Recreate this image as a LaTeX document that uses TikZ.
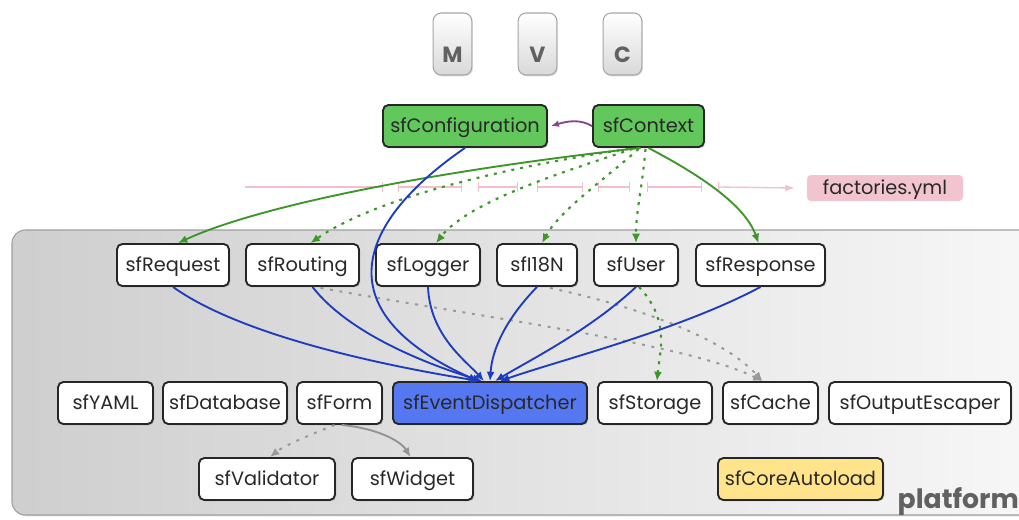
\documentclass[tikz,border=0pt]{standalone}
\usepackage{fontspec}
\setmainfont{Poppins}
\usetikzlibrary{arrows.meta,shadows,calc}
\definecolor{nodegreen}{RGB}{98,200,92}
\definecolor{edgegreen}{RGB}{60,150,40}
\definecolor{nodeblue}{RGB}{85,120,240}
\definecolor{edgeblue}{RGB}{30,60,190}
\definecolor{nodeyellow}{RGB}{255,228,140}
\definecolor{pinkline}{RGB}{245,190,205}
\definecolor{pinkbox}{RGB}{242,196,208}
\definecolor{purpleedge}{RGB}{140,70,140}
\definecolor{txt}{RGB}{40,40,40}
\begin{document}
\begin{tikzpicture}[x=0.75pt,y=-0.75pt,
  box/.style={draw=black!85, line width=1.4pt, rounded corners=4pt, fill=white,
    inner sep=0pt, minimum height=31.5pt, font=\fontsize{14.5}{16}\selectfont, text=txt,
    text height=13pt, text depth=2.9pt,
    drop shadow={opacity=0.3,shadow xshift=1pt,shadow yshift=-1pt}},
  bw/.style={minimum width=#1*0.75pt},
  mvcbox/.style={draw=gray!70, line width=0.8pt, rounded corners=6pt,
    top color=white, bottom color=gray!30, minimum width=29pt, minimum height=46.5pt,
    drop shadow={opacity=0.25,shadow xshift=0.8pt,shadow yshift=-1pt}},
  mvclabel/.style={font=\bfseries\fontsize{16.5}{18}\selectfont, text=black!62},
  gtip/.style={-{Latex[length=7pt,width=6pt]}},
  gsolid/.style={draw=edgegreen, line width=1.4pt, gtip},
  gdots/.style={draw=edgegreen, line width=1.6pt, dash pattern=on 2.2pt off 4.5pt, gtip},
  bline/.style={draw=edgeblue, line width=1.4pt, gtip},
  graydash/.style={draw=gray!80, line width=1.5pt, dash pattern=on 2.2pt off 5pt, gtip},
  graysolid/.style={draw=gray!85, line width=1.4pt, gtip},
  pinkseg/.style={draw=pinkline, line width=1pt}
]
\useasboundingbox (0,0) rectangle (1019,519);
\fill[white] (0,0) rectangle (1019,519);
\clip (0,0) rectangle (1019,519);

% platform area
\path[draw=gray!75, line width=0.8pt, rounded corners=10pt, left color=black!19, right color=black!3,
  drop shadow={opacity=0.25,shadow xshift=1pt,shadow yshift=-1pt}]
  (12,230) rectangle (1045,515);
\node[anchor=base west, font=\bfseries\fontsize{20}{22}\selectfont, text=black!62] (plat) at (893,508) {platform};

% MVC
\node[mvcbox] (m) at (452.5,44) {};
\node[mvcbox] (v) at (537.5,44) {};
\node[mvcbox] (c) at (622.5,44) {};
\node[mvclabel] (ml) at (452.5,55) {M};
\node[mvclabel] (vl) at (537.5,55) {V};
\node[mvclabel] (cl) at (622.5,55) {C};

% top nodes
\node[box, bw=164, fill=nodegreen] (conf) at (465,126) {sfConfiguration};
\node[box, bw=111, fill=nodegreen] (ctx) at (648.5,126) {sfContext};

% factories
\node[fill=pinkbox, rounded corners=3pt, minimum width=117pt, minimum height=19.5pt, inner sep=0pt,
  font=\fontsize{14.5}{16}\selectfont, text=txt, text height=13pt, text depth=2.9pt] (fy) at (885,188) {factories.yml};
\coordinate (pstart) at (245,187);
\coordinate (pend) at ($(fy.west)+(-12,0)$);
\draw[pinkseg, -{Bar[width=7pt]}] (pstart) -- (383,187);
\foreach \a/\b in {398/462,478/518,537/583,598/630,647/702}{
  \draw[pinkseg, {Bar[width=7pt]}-{Bar[width=7pt]}] (\a,187) -- (\b,187);
}
\draw[pinkseg, {Bar[width=7pt]}-{Latex[length=7pt,width=5pt]}] (718,187) -- (pend);

% row 1
\node[box, bw=112] (req) at (173,265) {sfRequest};
\node[box, bw=113] (rout) at (302.5,265) {sfRouting};
\node[box, bw=104] (log) at (428,265) {sfLogger};
\node[box, bw=80] (i18n) at (537,265) {sfI18N};
\node[box, bw=84] (user) at (636,265) {sfUser};
\node[box, bw=129] (resp) at (760.5,265) {sfResponse};

% row 2
\node[box, bw=95] (yaml) at (105.5,403) {sfYAML};
\node[box, bw=124] (db) at (225,403) {sfDatabase};
\node[box, bw=85] (form) at (339.5,403) {sfForm};
\node[box, bw=194, fill=nodeblue] (ed) at (490,403) {sfEventDispatcher};
\node[box, bw=114] (stor) at (655,403) {sfStorage};
\node[box, bw=95] (cache) at (770.5,403) {sfCache};
\node[box, bw=182] (oe) at (920,403) {sfOutputEscaper};

% row 3
\node[box, bw=136] (val) at (267,479) {sfValidator};
\node[box, bw=121] (wid) at (412.5,479) {sfWidget};
\node[box, bw=165, fill=nodeyellow] (core) at (800.5,479) {sfCoreAutoload};

% purple
\draw[draw=purpleedge, line width=1.4pt, -{Latex[length=6pt,width=5pt]}]
  (ctx.west) .. controls (580,119) and (568,121) .. ($(conf.east)+(3,0)$);

% green solid
\draw[gsolid] ($(ctx.south)+(-8,0)$) .. controls (440,170) and (260,205) .. ($(req.north)+(5,0)$);
\draw[gsolid] (ctx.south) .. controls (700,175) and (745,205) .. ($(resp.north)+(-2,0)$);

% green dotted
\draw[gdots] ($(ctx.south)+(-20,1)$) .. controls (520,165) and (380,195) .. ($(rout.north)+(8,0)$);
\draw[gdots] ($(ctx.south)+(-16,1)$) .. controls (570,170) and (470,200) .. ($(log.north)+(8,0)$);
\draw[gdots] ($(ctx.south)+(-10,1)$) .. controls (610,175) and (560,210) .. ($(i18n.north)+(5,0)$);
\draw[gdots] ($(ctx.south)+(-3,1)$) .. controls (642,190) and (636,210) .. (user.north);
\draw[gdots] ($(user.south)+(3,0)$) .. controls (670,320) and (660,350) .. ($(stor.north)+(2,0)$);

% gray dashed to cache
\draw[graydash] ($(rout.south)+(18,1)$) .. controls (500,320) and (690,345) .. ($(cache.north)+(-8,0)$);
\draw[graydash] ($(i18n.south)+(13,1)$) .. controls (630,305) and (720,335) .. ($(cache.north)+(-8,0)$);

% blue to event dispatcher
\draw[bline] (conf.south) .. controls (360,220) and (320,310) .. ($(ed.north)+(-12,0)$);
\draw[bline] (req.south) .. controls (240,335) and (380,365) .. ($(ed.north)+(-10,0)$);
\draw[bline] ($(rout.south)+(10,0)$) .. controls (350,335) and (430,365) .. ($(ed.north)+(-8,0)$);
\draw[bline] (log.south) .. controls (430,335) and (465,360) .. ($(ed.north)+(-6,0)$);
\draw[bline] (i18n.south) .. controls (505,320) and (492,350) .. ($(ed.north)+(0,0)$);
\draw[bline] (user.south) .. controls (590,330) and (530,360) .. ($(ed.north)+(5,0)$);
\draw[bline] (resp.south) .. controls (680,330) and (560,360) .. ($(ed.north)+(10,0)$);

% form
\draw[graydash] ($(form.south)+(-5,0)$) .. controls (310,435) and (285,445) .. ($(val.north)+(3,0)$);
\draw[graysolid] ($(form.south)+(2,0)$) .. controls (375,428) and (400,440) .. ($(wid.north)+(-2,0)$);
\end{tikzpicture}
\end{document}
